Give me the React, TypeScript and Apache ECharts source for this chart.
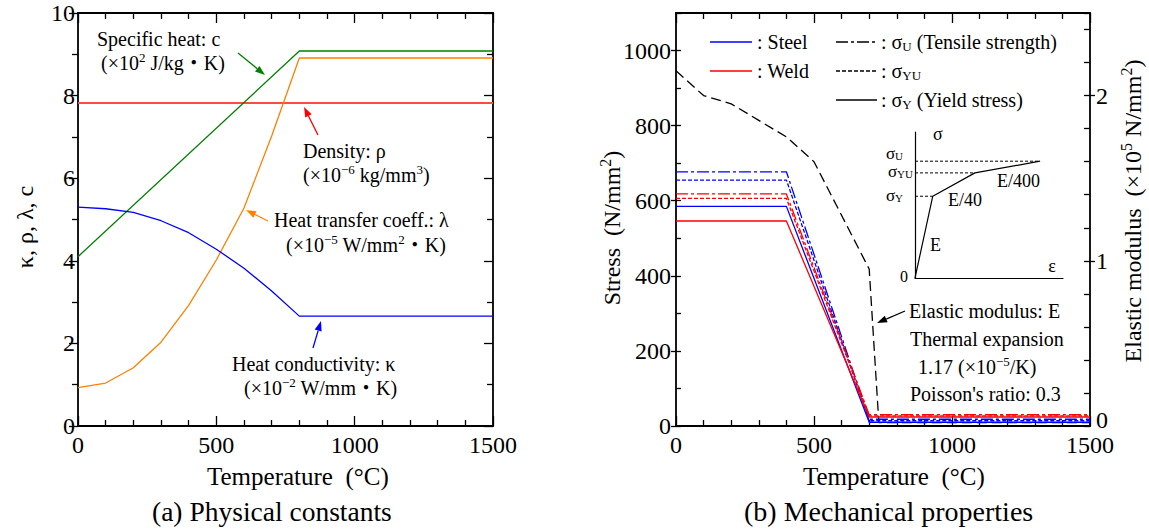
import React, { useEffect, useRef } from 'react';
import * as echarts from 'echarts';

// ---------- (a) Physical constants ----------
const tempsA = [0, 100, 200, 300, 400, 500, 600, 700, 800, 1500];
const heatConductivity = [5.3, 5.26, 5.17, 4.97, 4.68, 4.28, 3.82, 3.27, 2.66, 2.66];
const heatTransfer = [0.93, 1.04, 1.41, 2.03, 2.92, 4.02, 5.28, 7.02, 8.91, 8.91];
const specificHeatTemps = [0, 800, 1500];
const specificHeat = [4.1, 9.08, 9.08];
const densityTemps = [0, 1500];
const density = [7.82, 7.82];

// ---------- (b) Mechanical properties ----------
const stressTemps = [0, 400, 700, 1500];
const steelSigmaU = [677, 677, 18, 18];
const steelSigmaYU = [655, 655, 14, 14];
const steelSigmaY = [585, 585, 10, 10];
const weldSigmaU = [618, 618, 30, 30];
const weldSigmaYU = [606, 606, 27, 27];
const weldSigmaY = [546, 546, 24, 24];

const elasticTemps = [0, 100, 200, 300, 400, 500, 700, 735, 1500];
const elasticModulus = [2.15, 2.0, 1.95, 1.85, 1.75, 1.6, 0.95, 0.02, 0.02];

// inset schematic (strain, stress) in arbitrary units 0..100
const insetStrain = [0, 12, 40.5, 84.5];
const insetStress = [0, 56, 72, 80];

// axis ranges / ticks
const tempMin = 0, tempMax = 1500, tempMajor = 500, tempMinorSplit = 5;
const constMin = 0, constMax = 10, constMajor = 2, constMinorSplit = 2;
const stressMin = 0, stressMax = 1100, stressMajor = 200, stressMinor = 100;
const eMin = 0, eMax = 2.5, eMajor = 1, eMinor = 0.2;

const F = "'Liberation Serif','Times New Roman','Noto Sans CJK JP',serif";
const BLACK = '#000';

const zip = (xs: number[], ys: number[]) => xs.map((x, i) => [x, ys[i]]);
const plain = (v: number) => String(v);

const tickStyle = { color: BLACK, width: 1.3 };
const axLine = { show: true, onZero: false, lineStyle: { color: BLACK, width: 1.8 } };
const lbl = (show: boolean, margin: number, extra: any = {}) => ({
  show, fontFamily: F, fontSize: 24, color: BLACK, margin, formatter: plain, ...extra,
});
const base = (o: any) => ({
  type: 'value',
  splitLine: { show: false },
  minorSplitLine: { show: false },
  axisLine: axLine,
  ...o,
});

const tempAxis = (gridIndex: number, position: string, labels: boolean) =>
  base({
    gridIndex, position, min: tempMin, max: tempMax, interval: tempMajor,
    axisTick: { show: true, inside: true, length: 10, lineStyle: tickStyle },
    minorTick: { show: true, splitNumber: tempMinorSplit, length: 6, lineStyle: tickStyle },
    axisLabel: lbl(labels, 7),
  });

const rich = (size: number, subPad = 0.45) => ({
  sup: { fontSize: Math.round(size * 0.66), fontFamily: F, fill: BLACK, padding: [0, 0, Math.round(size * 0.6), 0] },
  sub: { fontSize: Math.round(size * 0.66), fontFamily: F, fill: BLACK, padding: [Math.round(size * subPad), 0, 0, 0] },
});

function txt(x: number, y: number, text: string, size: number, opts: any = {}) {
  return {
    type: 'text', x, y, rotation: opts.rotation || 0, silent: true, z: 100,
    style: {
      text, fill: opts.color || BLACK, fontSize: size, fontFamily: F,
      textAlign: opts.align || 'left', textVerticalAlign: 'middle',
      rich: rich(size, opts.subPad),
    },
  };
}

function arrow(x1: number, y1: number, x2: number, y2: number, color: string) {
  const a = Math.atan2(y2 - y1, x2 - x1);
  const L = 10, W = 3.6;
  const bx = x2 - L * Math.cos(a), by = y2 - L * Math.sin(a);
  const px = -Math.sin(a) * W, py = Math.cos(a) * W;
  return [
    { type: 'line', silent: true, z: 100, shape: { x1, y1, x2: bx, y2: by }, style: { stroke: color, lineWidth: 1.3 } },
    { type: 'polygon', silent: true, z: 100, shape: { points: [[x2, y2], [bx + px, by + py], [bx - px, by - py]] }, style: { fill: color } },
  ];
}

function seg(x1: number, y1: number, x2: number, y2: number, color: string, dash?: number[]) {
  return {
    type: 'line', silent: true, z: 100, shape: { x1, y1, x2, y2 },
    style: { stroke: color, lineWidth: 1.3, lineDash: dash || null },
  };
}

const DASHDOT = [12, 3, 3, 3];
const DOTTED = [4, 2];

function line(data: number[][], color: string, xi: number, yi: number, type: any = 'solid', width = 1.3) {
  return {
    type: 'line', data, xAxisIndex: xi, yAxisIndex: yi, showSymbol: false, symbol: 'none',
    silent: true, lineStyle: { color, width, type }, z: 3,
  };
}

const option: any = {
  animation: false,
  backgroundColor: '#fff',
  grid: [
    { left: 78, top: 13, width: 415, height: 413, containLabel: false },
    { left: 676, top: 13, width: 414, height: 413, containLabel: false },
    { left: 915, top: 132, width: 148, height: 146, containLabel: false },
  ],
  xAxis: [
    tempAxis(0, 'bottom', true),
    tempAxis(0, 'top', false),
    tempAxis(1, 'bottom', true),
    tempAxis(1, 'top', false),
    base({ gridIndex: 2, min: 0, max: 100, axisLine: { show: true, onZero: false, lineStyle: { color: BLACK, width: 1.2 } }, axisTick: { show: false }, axisLabel: { show: false } }),
  ],
  yAxis: [
    base({
      gridIndex: 0, position: 'left', min: constMin, max: constMax, interval: constMajor,
      axisTick: { show: true, inside: false, length: 9, lineStyle: tickStyle },
      minorTick: { show: true, splitNumber: constMinorSplit, length: 6, lineStyle: tickStyle },
      axisLabel: lbl(true, 3),
    }),
    base({
      gridIndex: 0, position: 'right', min: constMin, max: constMax, interval: constMajor,
      axisTick: { show: true, inside: true, length: 9, lineStyle: tickStyle },
      minorTick: { show: true, splitNumber: constMinorSplit, length: 6, lineStyle: tickStyle },
      axisLabel: { show: false },
    }),
    base({
      gridIndex: 1, position: 'left', min: stressMin, max: stressMax, interval: stressMajor,
      axisTick: { show: true, inside: false, length: 5, lineStyle: tickStyle },
      axisLabel: lbl(true, 5, { showMaxLabel: false }),
    }),
    base({
      gridIndex: 1, position: 'left', min: stressMin, max: stressMax, interval: stressMinor,
      axisLine: { show: false, onZero: false },
      axisTick: { show: true, inside: true, length: 5, lineStyle: tickStyle },
      axisLabel: { show: false },
    }),
    base({
      gridIndex: 1, position: 'right', min: eMin, max: eMax, interval: eMajor,
      axisTick: { show: true, inside: false, length: 5, lineStyle: tickStyle },
      axisLabel: lbl(true, 6, { showMaxLabel: false, showMinLabel: false }),
    }),
    base({
      gridIndex: 1, position: 'right', min: eMin, max: eMax, interval: eMinor,
      axisLine: { show: false, onZero: false },
      axisTick: { show: true, inside: true, length: 6, lineStyle: tickStyle },
      axisLabel: { show: false },
    }),
    base({ gridIndex: 2, min: 0, max: 100, axisLine: { show: true, onZero: false, lineStyle: { color: BLACK, width: 1.2 } }, axisTick: { show: false }, axisLabel: { show: false } }),
  ],
  series: [
    line(zip(densityTemps, density), '#ff4a4a', 0, 0, 'solid', 2),
    line(zip(specificHeatTemps, specificHeat), '#008000', 0, 0),
    line(zip(tempsA, heatTransfer), '#ff8000', 0, 0),
    line(zip(tempsA, heatConductivity), '#0000ff', 0, 0),

    line(zip(elasticTemps, elasticModulus), BLACK, 2, 4, [10, 5]),
    line(zip(stressTemps, steelSigmaY), '#0000ff', 2, 2),
    line(zip(stressTemps, steelSigmaYU), '#0000ff', 2, 2, DOTTED),
    line(zip(stressTemps, steelSigmaU), '#0000ff', 2, 2, DASHDOT),
    line(zip(stressTemps, weldSigmaY), '#ff0000', 2, 2),
    line(zip(stressTemps, weldSigmaYU), '#ff0000', 2, 2, DOTTED),
    line(zip(stressTemps, weldSigmaU), '#ff0000', 2, 2, DASHDOT),

    line(zip(insetStrain, insetStress), BLACK, 4, 6, 'solid', 1.2),
    line([[0, insetStress[3]], [insetStrain[3], insetStress[3]]], BLACK, 4, 6, [3, 2], 1),
    line([[0, insetStress[2]], [insetStrain[2], insetStress[2]]], BLACK, 4, 6, [3, 2], 1),
    line([[0, insetStress[1]], [insetStrain[1], insetStress[1]]], BLACK, 4, 6, [3, 2], 1),
  ],
  graphic: [
    // (a) annotations
    txt(97, 39, 'Specific heat: c', 20),
    txt(101, 63, '(×10{sup|2} J/kg・K)', 20),
    ...arrow(238, 53, 265, 75, '#008000'),
    txt(303, 151, 'Density: ρ', 20),
    txt(303, 175, '(×10{sup|−6} kg/mm{sup|3})', 20),
    ...arrow(318, 135, 304, 107, '#ff0000'),
    txt(274, 220, 'Heat transfer coeff.: λ', 20),
    txt(286, 245, '(×10{sup|−5} W/mm{sup|2}・K)', 20),
    ...arrow(268, 221, 246, 210, '#ff8000'),
    txt(232, 364, 'Heat conductivity: κ', 20),
    txt(244, 388, '(×10{sup|−2} W/mm・K)', 20),
    ...arrow(313, 348, 321, 321, '#0000ff'),

    // titles (a)
    txt(25, 227, 'κ, ρ, λ, c', 24, { rotation: Math.PI / 2, align: 'center' }),
    txt(207, 476, 'Temperature  (°C)', 25),
    txt(152, 511, '(a) Physical constants', 27.5),

    // (b) legend
    seg(710, 42, 752, 42, '#0000ff'),
    txt(757, 42, ': Steel', 20),
    seg(710, 71, 752, 71, '#ff0000'),
    txt(757, 71, ': Weld', 20),
    seg(836, 42, 877, 42, BLACK, DASHDOT),
    txt(881, 42, ': σ{sub|U} (Tensile strength)', 20),
    seg(836, 71, 877, 71, BLACK, DOTTED),
    txt(881, 71, ': σ{sub|YU}', 20),
    seg(836, 100, 877, 100, BLACK),
    txt(881, 100, ': σ{sub|Y} (Yield stress)', 20),

    // inset labels
    txt(933, 134, 'σ', 18),
    txt(903, 153, 'σ{sub|U}', 17, { align: 'right', subPad: 0.3 }),
    txt(913, 171, 'σ{sub|YU}', 17, { align: 'right', subPad: 0.3 }),
    txt(903, 195, 'σ{sub|Y}', 17, { align: 'right', subPad: 0.3 }),
    txt(904, 276, '0', 16, { align: 'center' }),
    txt(1052, 266, 'ε', 18, { align: 'center' }),
    txt(930, 245, 'E', 18),
    txt(948, 200, 'E/40', 18),
    txt(997, 181, 'E/400', 18),

    // elastic-modulus axis zero label (raised to clear the temperature label)
    txt(1096, 420, '0', 24),

    // (b) annotations
    txt(909, 311, 'Elastic modulus: E', 20),
    ...arrow(905, 311, 877, 323, BLACK),
    txt(910, 339, 'Thermal expansion', 20),
    txt(918, 367, '1.17 (×10{sup|−5}/K)', 20),
    txt(910, 394, "Poisson's ratio: 0.3", 20),

    // titles (b)
    txt(612, 228, 'Stress  (N/mm{sup|2})', 24, { rotation: Math.PI / 2, align: 'center' }),
    txt(1133, 211, 'Elastic modulus  (×10{sup|5} N/mm{sup|2})', 24, { rotation: Math.PI / 2, align: 'center' }),
    txt(803, 476, 'Temperature  (°C)', 25),
    txt(744, 511, '(b) Mechanical properties', 28),
  ],
};

export default function App() {
  const ref = useRef<HTMLDivElement>(null);
  useEffect(() => {
    const chart = echarts.init(ref.current!, null, { renderer: 'svg', width: 1149, height: 531 });
    chart.setOption(option);
    return () => chart.dispose();
  }, []);
  return (
    <div
      ref={ref}
      style={{ position: 'fixed', left: 0, top: 0, width: 1149, height: 531, background: '#fff' }}
    />
  );
}
